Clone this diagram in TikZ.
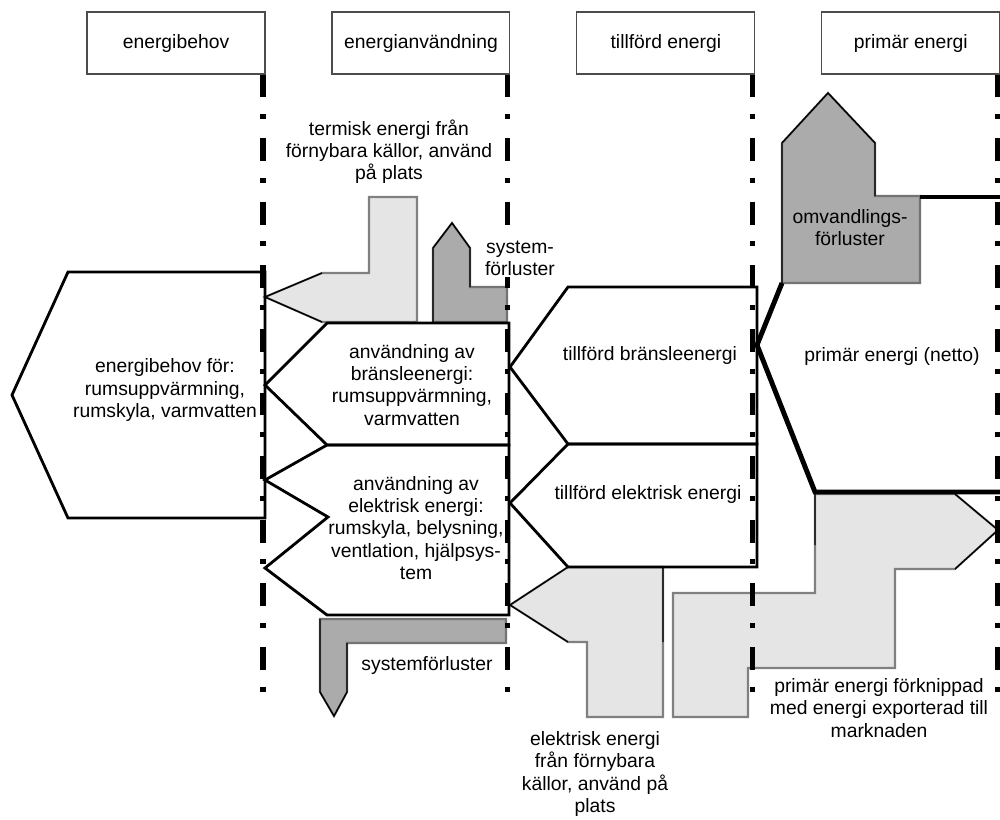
\documentclass[tikz,border=0pt]{standalone}
\usepackage{fontspec}
\setmainfont{Liberation Sans}
\usetikzlibrary{positioning}

\begin{document}
\begin{tikzpicture}[x = 0.02cm, y = -0.02cm, node distance = 4.9cm, on grid, line join = miter,
  head/.style = {draw = black!70, semithick, minimum width = 3.56cm, minimum height = 1.24cm, font = \fontsize{11}{12.6}\selectfont},
  txt/.style = {align = center, font = \fontsize{11}{12.6}\selectfont},
  divider/.style = {line width = 3pt, dash pattern = on 13pt off 9.6pt on 2.8pt off 10.8pt},
  flow/.style = {line width = 1.6pt},
  net/.style = {line width = 2.8pt},
  light/.style = {fill = black!10, draw = black!50, line width = 1.2pt},
  dark/.style = {fill = black!33, draw = black!55, line width = 1.2pt},
  tipline/.style = {line width = 0.8pt}]
\useasboundingbox (0,0) rectangle (1000,819);

\node[head] (h1) at (176,43) {energibehov};
\node[head, right = of h1] (h2) {energianvändning};
\node[head, right = of h2] (h3) {tillförd energi};
\node[head, right = of h3] (h4) {primär energi};

% gray flows
\filldraw[light] (265,297) -- (322,273) -- (369,273) -- (369,197) -- (417,197) -- (417,322) -- (322,322) -- cycle;
\draw[tipline] (322,273) -- (265,297) -- (322,322);
\filldraw[dark] (433,322) -- (433,248) -- (452,223) -- (470,248) -- (470,287) -- (507,287) -- (507,322) -- cycle;
\draw[tipline] (433,322) -- (433,248) -- (452,223) -- (470,248) -- (470,287);
\filldraw[dark] (320,619) -- (506,619) -- (506,643) -- (347,643) -- (347,692) -- (334,716) -- (320,692) -- cycle;
\draw[tipline] (347,643) -- (347,692) -- (334,716) -- (320,692) -- (320,619);
\filldraw[light] (510,605) -- (568,567) -- (663,567) -- (663,717) -- (587,717) -- (587,642) -- (568,642) -- cycle;
\draw[tipline] (568,642) -- (510,605) -- (568,567) (663,567) -- (663,642);
\filldraw[light] (815,494) -- (955,494) -- (998,530) -- (955,569) -- (895,569) -- (895,668) -- (748,668) -- (748,717) -- (673,717) -- (673,593) -- (815,593) -- cycle;
\draw[tipline] (955,494) -- (998,530) -- (955,569) (815,494) -- (815,545);
\filldraw[dark] (782,283) -- (782,143) -- (828,93) -- (875,143) -- (875,196) -- (920,196) -- (920,283) -- cycle;
\draw[tipline] (782,283) -- (782,143) -- (828,93) -- (875,143) -- (875,196);

% white flows
\draw[flow] (265,272) -- (68,272) -- (12,395) -- (68,518) -- (265,518) -- cycle;
\draw[flow] (509,323) -- (327,323) -- (265,385) -- (327,445) -- (509,445) -- cycle;
\draw[flow] (509,445) -- (327,445) -- (265,480) -- (328,517) -- (265,568) -- (327,615) -- (509,615) -- cycle;
\draw[flow] (757,287) -- (568,287) -- (510,367) -- (568,444) -- (757,444) -- cycle;
\draw[flow] (757,444) -- (568,444) -- (510,503) -- (568,567) -- (757,567) -- cycle;
\draw[net] (1000,197) -- (920,197);
\draw[net] (782,283) -- (757,345) -- (815,492) -- (1000,492);

\foreach \h in {h1, h2, h3, h4}
  \draw[divider] ([xshift = -1.5pt]\h.south east) -- ++(0,624);

\node[txt] (demand) at (165,390) {energibehov för:\\ rumsuppvärmning,\\ rumskyla, varmvatten};
\node[txt] (thermal) at (389,152) {termisk energi från\\ förnybara källor, använd\\ på plats};
\node[txt, fill = white, inner sep = 1pt] (sysup) at (520,258) {system-\\ förluster};
\node[txt] (fueluse) at (412,385) {användning av\\ bränsleenergi:\\ rumsuppvärmning,\\ varmvatten};
\node[txt] (eluse) at (416,528) {användning av\\ elektrisk energi:\\ rumskyla, belysning,\\ ventlation, hjälpsys-\\ tem};
\node[txt] (syslow) at (427,665) {systemförluster};
\node[txt] (fueluse2) at (650,355) {tillförd bränsleenergi};
\node[txt] (elsup) at (648,494) {tillförd elektrisk energi};
\node[txt] (elren) at (595,774) {elektrisk energi\\ från förnybara\\ källor, använd på\\ plats};
\node[txt] (conv) at (850,228) {omvandlings-\\ förluster};
\node[txt] (primnet) at (892,356) {primär energi (netto)};
\node[txt] (export) at (879,708) {primär energi förknippad\\ med energi exporterad till\\ marknaden};
\end{tikzpicture}
\end{document}
